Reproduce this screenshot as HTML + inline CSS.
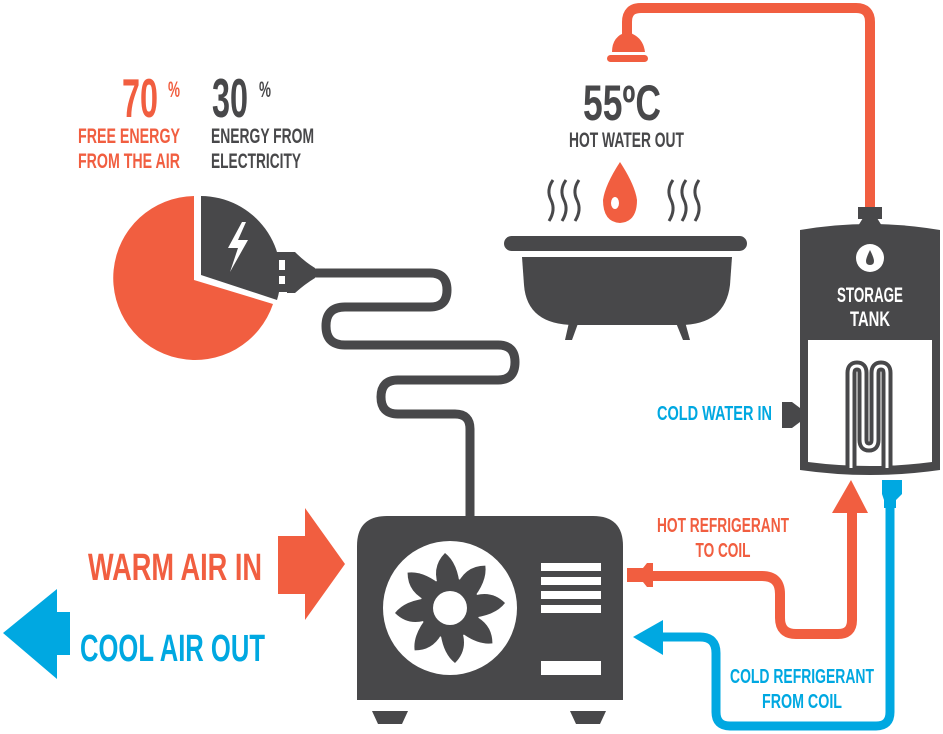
<!DOCTYPE html>
<html><head><meta charset="utf-8"><style>
html,body{margin:0;padding:0;background:#fff;}
svg{display:block;}
text{font-family:"Liberation Sans Narrow","Liberation Sans",sans-serif;font-weight:bold;}
</style></head><body>
<svg width="943" height="734" viewBox="0 0 943 734" xmlns="http://www.w3.org/2000/svg">
<!-- header texts -->
<text x="122" y="117" font-size="55" fill="#F15E40" textLength="36" lengthAdjust="spacingAndGlyphs">70</text>
<text x="168" y="97" font-size="22" fill="#F15E40" textLength="12" lengthAdjust="spacingAndGlyphs">%</text>
<text x="212" y="117" font-size="55" fill="#48484A" textLength="36" lengthAdjust="spacingAndGlyphs">30</text>
<text x="259" y="97" font-size="22" fill="#48484A" textLength="12" lengthAdjust="spacingAndGlyphs">%</text>
<text x="180" y="143" font-size="21" fill="#F15E40" text-anchor="end" textLength="102" lengthAdjust="spacingAndGlyphs">FREE ENERGY</text>
<text x="180" y="168" font-size="21" fill="#F15E40" text-anchor="end" textLength="102" lengthAdjust="spacingAndGlyphs">FROM THE AIR</text>
<text x="211" y="143" font-size="21" fill="#48484A" textLength="103" lengthAdjust="spacingAndGlyphs">ENERGY FROM</text>
<text x="211" y="168" font-size="21" fill="#48484A" textLength="90" lengthAdjust="spacingAndGlyphs">ELECTRICITY</text>

<!-- pie -->
<path d="M194 280 L194 196 A82 82 0 1 0 273 304 Z" fill="#F15E40"/>
<path d="M201 275 L201 196 A80 80 0 0 1 277 300 Z" fill="#48484A"/>
<path d="M242 222 L228 248 L238 248 L230 272 L248 240 L238 240 L246 222 Z" fill="#fff"/>
<!-- plug -->
<rect x="277" y="252" width="10" height="40" fill="#48484A"/>
<rect x="279" y="260" width="6" height="10" fill="#fff"/>
<rect x="279" y="276" width="6" height="8" fill="#fff"/>
<path d="M287 252 L295 252 Q305 262 315 268 L315 278 Q305 284 295 293 L287 293 Z" fill="#48484A"/>
<!-- cord -->
<path d="M310 273 L430 273 Q447 273 447 290 Q447 307 430 307 L345 307 Q326 307 326 326 Q326 345 345 345 L498 345 Q515 345 515 362 Q515 380 498 380 L398 380 Q381 380 381 397 Q381 414 398 414 L455 414 Q470 414 470 429 L470 520" fill="none" stroke="#48484A" stroke-width="9"/>

<!-- unit -->
<path d="M357 700 L357 546 Q357 516 387 516 L593 516 Q623 516 623 546 L623 700 Z" fill="#48484A"/>
<path d="M372 711 L408 711 L402 724 L378 724 Z" fill="#48484A"/>
<path d="M570 711 L606 711 L600 724 L576 724 Z" fill="#48484A"/>
<circle cx="450" cy="608" r="67" fill="#fff"/>
<g fill="#48484A" transform="translate(450,608)">
<g id="bl"><path d="M-10 -18 Q-20 -40 -5 -55 Q8 -45 10 -20 Z"/></g>
<use href="#bl" transform="rotate(45)"/><use href="#bl" transform="rotate(90)"/><use href="#bl" transform="rotate(135)"/>
<use href="#bl" transform="rotate(180)"/><use href="#bl" transform="rotate(225)"/><use href="#bl" transform="rotate(270)"/><use href="#bl" transform="rotate(315)"/>
<circle r="30"/>
<circle r="17" fill="#fff"/>
</g>
<g fill="#fff">
<rect x="541" y="563" width="60" height="8"/><rect x="541" y="577" width="60" height="8"/>
<rect x="541" y="591" width="60" height="8"/><rect x="541" y="605" width="60" height="8"/>
<rect x="541" y="661" width="60" height="14"/>
</g>

<!-- warm air -->
<path d="M278 536 L305 536 L305 508 L345 564 L305 620 L305 594 L278 594 Z" fill="#F15E40"/>
<text x="88" y="580" font-size="38" fill="#F15E40" textLength="174" lengthAdjust="spacingAndGlyphs">WARM AIR IN</text>
<!-- cool air -->
<path d="M70 612 L57 612 L57 589 L3 633 L57 679 L57 655 L70 655 Z" fill="#00A8E1"/>
<text x="80" y="661" font-size="38" fill="#00A8E1" textLength="185" lengthAdjust="spacingAndGlyphs">COOL AIR OUT</text>

<!-- shower pipe -->
<path d="M627 40 L627 22 Q627 8 641 8 L856 8 Q870 8 870 22 L870 210" fill="none" stroke="#F15E40" stroke-width="10"/>
<path d="M612 52 Q612 36 627 32 Q643 36 645 52 Z" fill="#F15E40"/>
<rect x="607" y="55" width="41" height="7" rx="3.5" fill="#F15E40"/>
<text x="583" y="120" font-size="50" fill="#48484A" textLength="78" lengthAdjust="spacingAndGlyphs">55ºC</text>
<text x="569" y="147" font-size="21" fill="#48484A" textLength="115" lengthAdjust="spacingAndGlyphs">HOT WATER OUT</text>

<!-- bath -->
<path d="M620 162 Q605 185 603 200 Q603 222 620 223 Q637 222 637 200 Q635 185 620 162 Z" fill="#F15E40"/>
<ellipse cx="615" cy="203" rx="4" ry="6" fill="#fff"/>
<g fill="none" stroke="#48484A" stroke-width="3">
<path d="M553 180 Q546 190 551 200 Q556 210 549 221"/>
<path d="M566 180 Q559 190 564 200 Q569 210 562 221"/>
<path d="M579 180 Q572 190 577 200 Q582 210 575 221"/>
<path d="M673 180 Q666 190 671 200 Q676 210 669 221"/>
<path d="M686 180 Q679 190 684 200 Q689 210 682 221"/>
<path d="M699 180 Q692 190 697 200 Q702 210 695 221"/>
</g>
<rect x="504" y="236" width="243" height="15" rx="7.5" fill="#48484A"/>
<path d="M522 257 L732 257 L730 285 Q725 325 680 325 L575 325 Q527 325 524 285 Z" fill="#48484A"/>
<path d="M570 318 L580 318 L572 340 L565 340 Z" fill="#48484A"/>
<path d="M674 318 L684 318 L690 340 L683 340 Z" fill="#48484A"/>

<!-- tank -->
<rect x="858" y="207" width="24" height="12" fill="#48484A"/>
<path d="M863 218 L877 218 L882 226 L858 226 Z" fill="#48484A"/>
<path d="M800 230 Q870 218 940 230 L940 470 Q870 480 800 470 Z" fill="#48484A"/>
<path d="M808 340 L932 340 L932 462 Q870 470 808 462 Z" fill="#fff"/>
<path d="M851 468 L851 373 Q851 366 857 366 Q863 366 863 373 L863 440 Q863 447 869 447 Q875 447 875 440 L875 373 Q875 366 881 366 Q887 366 887 373 L887 468" fill="none" stroke="#48484A" stroke-width="11"/>
<path d="M851 468 L851 373 Q851 366 857 366 Q863 366 863 373 L863 440 Q863 447 869 447 Q875 447 875 440 L875 373 Q875 366 881 366 Q887 366 887 373 L887 468" fill="none" stroke="#fff" stroke-width="3"/>
<circle cx="870" cy="258" r="14" fill="#fff"/>
<path d="M870 250 Q866 258 866 261 Q866 265 870 265 Q874 265 874 261 Q874 258 870 250 Z" fill="#48484A"/>
<text x="870" y="302" font-size="21" fill="#fff" text-anchor="middle" textLength="66" lengthAdjust="spacingAndGlyphs">STORAGE</text>
<text x="870" y="326" font-size="21" fill="#fff" text-anchor="middle" textLength="40" lengthAdjust="spacingAndGlyphs">TANK</text>
<path d="M782 402 L792 402 L800 408 L800 422 L792 428 L782 428 Z" fill="#48484A"/>
<text x="657" y="420" font-size="20" fill="#00A8E1" textLength="115" lengthAdjust="spacingAndGlyphs">COLD WATER IN</text>

<!-- hot refrigerant -->
<path d="M652 576 L762 576 Q780 576 780 594 L780 618 Q780 634 796 634 L838 634 Q852 634 852 620 L852 508" fill="none" stroke="#F15E40" stroke-width="10"/>
<path d="M851 480 L868 513 L832 513 Z" fill="#F15E40"/>
<path d="M627 568 L643 568 L647 563 L653 563 L653 587 L647 587 L643 582 L627 582 Z" fill="#F15E40"/>
<text x="723" y="532" font-size="20" fill="#F15E40" text-anchor="middle" textLength="132" lengthAdjust="spacingAndGlyphs">HOT REFRIGERANT</text>
<text x="723" y="557" font-size="20" fill="#F15E40" text-anchor="middle" textLength="55" lengthAdjust="spacingAndGlyphs">TO COIL</text>

<!-- cold refrigerant -->
<path d="M656 637 L700 637 Q716 637 716 653 L716 712 Q716 726 730 726 L876 726 Q890 726 890 712 L890 500" fill="none" stroke="#00A8E1" stroke-width="9"/>
<path d="M633 637 L663 620 L663 655 Z" fill="#00A8E1"/>
<path d="M882 480 L902 480 L902 494 L896 500 L896 508 L884 508 L884 500 L882 494 Z" fill="#00A8E1"/>
<text x="802" y="683" font-size="20" fill="#00A8E1" text-anchor="middle" textLength="144" lengthAdjust="spacingAndGlyphs">COLD REFRIGERANT</text>
<text x="802" y="708" font-size="20" fill="#00A8E1" text-anchor="middle" textLength="80" lengthAdjust="spacingAndGlyphs">FROM COIL</text>
</svg>
</body></html>
